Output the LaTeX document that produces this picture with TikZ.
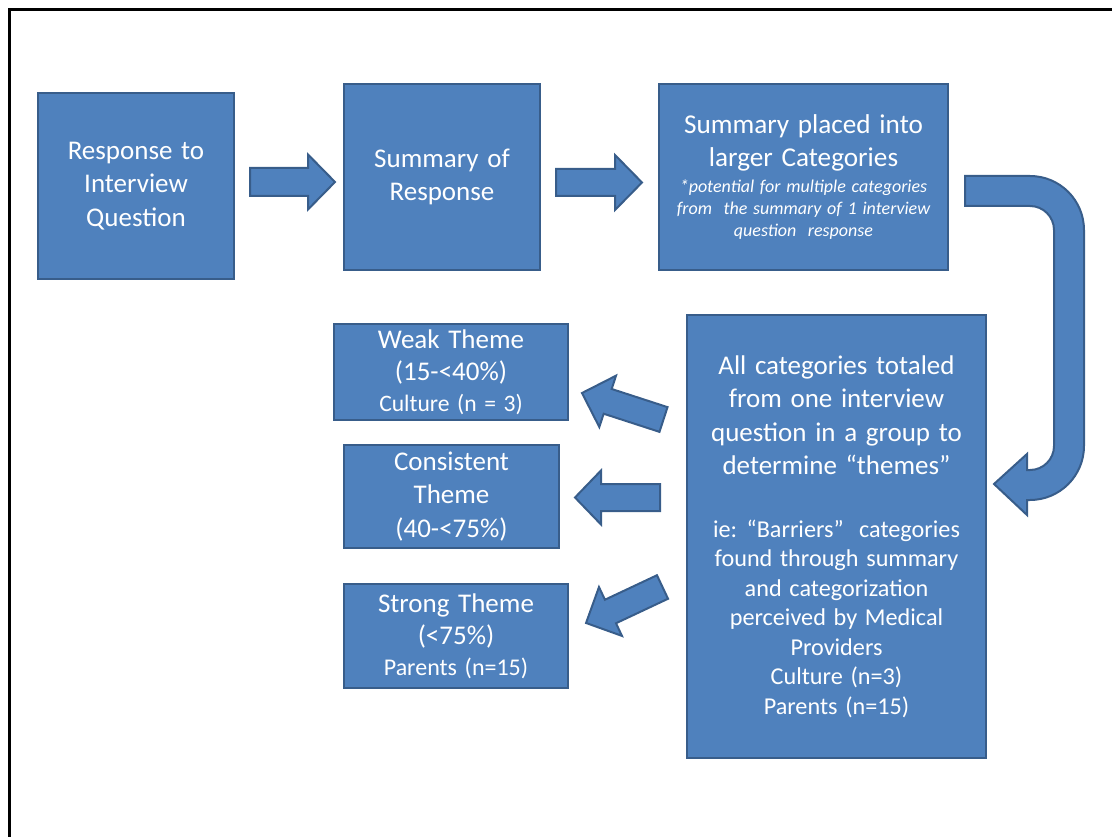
\documentclass[tikz,border=0pt]{standalone}
\usepackage{fontspec}
\setmainfont{Carlito}
\definecolor{boxblue}{HTML}{4F81BD}
\definecolor{boxedge}{HTML}{385D8A}
\newcommand{\setfs}[2]{\fontsize{#1}{#2}\selectfont\spaceskip=0.32em\relax}
\tikzset{
  stage/.style={draw=boxedge, fill=boxblue, line width=2pt, text=white,
    inner sep=0pt, anchor=north west, align=flush center},
  blockarr/.style={draw=boxedge, fill=boxblue, line width=2pt, line join=miter},
  bigtext/.style={font=\setfs{27}{33.5}},
}
\newcommand{\blockarrow}[4]{\draw[blockarr] (0,-#2) -- ({#1-#4},-#2) -- ({#1-#4},-#3) -- (#1,0) -- ({#1-#4},#3) -- ({#1-#4},#2) -- (0,#2) -- cycle;}
\begin{document}
\begin{tikzpicture}[x=1pt,y=1pt,yscale=-1]
\useasboundingbox (0,0) rectangle (1112,837);
\draw[line width=2.5pt] (9.5,837) -- (9.5,9.5) -- (1112,9.5);

% top row
\node[stage, bigtext, minimum width=196pt, minimum height=186pt] (resp) at (37,92)
  {Response to\\Interview\\Question};
\node[stage, bigtext, minimum width=196pt, minimum height=186pt] (summ) at (343,83)
  {Summary of\\Response};
\node[stage, minimum width=289pt, minimum height=186pt, text width=285pt] (cat) at (658,83)
  {\setfs{27.2}{32.5}Summary placed into\\larger Categories\par\vspace{4pt}
   \setfs{18}{22}\itshape *potential for multiple categories\\from\ \ the summary of 1 interview\\question\ \ response\par};

% big box
\node[stage, minimum width=299pt, minimum height=443pt, text width=295pt] (total) at (686,314)
  {\setfs{27}{33.5}All categories totaled\\from one interview\\question in a group to\\determine “themes”\par\vspace{33pt}
   \setfs{24.2}{29.5}ie: “Barriers”\ \ categories\\found through summary\\and categorization\\perceived by Medical\\Providers\\Culture (n=3)\\Parents (n=15)\par};

% themes
\node[stage, minimum width=234pt, minimum height=95pt, text width=230pt] (weak) at (333,323.5)
  {\setfs{27}{32}Weak Theme\\(15-<40\%)\par\setfs{23.6}{31}Culture (n = 3)\par};
\node[stage, bigtext, minimum width=215pt, minimum height=103pt] (cons) at (343,444)
  {Consistent\\Theme\\(40-<75\%)};
\node[stage, minimum width=224pt, minimum height=104pt, text width=220pt] (strong) at (343,583)
  {\setfs{27}{32}Strong Theme\\(<75\%)\par\setfs{24}{31}Parents (n=15)\par};

% block arrows
\begin{scope}[shift={(250,182)}] \blockarrow{85}{14}{27.5}{27} \end{scope}
\begin{scope}[shift={(556,182.5)}] \blockarrow{86}{13.5}{27.5}{27} \end{scope}
\begin{scope}[shift={(660,497.5)}, rotate=180] \blockarrow{85}{13.5}{27}{26} \end{scope}
\begin{scope}[shift={(663.5,419.5)}, rotate=198] \blockarrow{85.7}{13}{27}{27} \end{scope}
\begin{scope}[shift={(662.5,587)}, rotate=154.8] \blockarrow{84.5}{13}{27}{27} \end{scope}

% U-turn arrow
\draw[blockarr] (965,176) -- (1030,176) arc[start angle=270,end angle=360,radius=54]
  -- (1084,446) arc[start angle=0,end angle=90,radius=54]
  -- (1027,500) -- (1027,515) -- (994,484) -- (1027,454) -- (1027,470) -- (1030,470)
  arc[start angle=90,end angle=0,radius=24]
  -- (1054,230) arc[start angle=0,end angle=-90,radius=24]
  -- (965,206) -- cycle;
\end{tikzpicture}
\end{document}
